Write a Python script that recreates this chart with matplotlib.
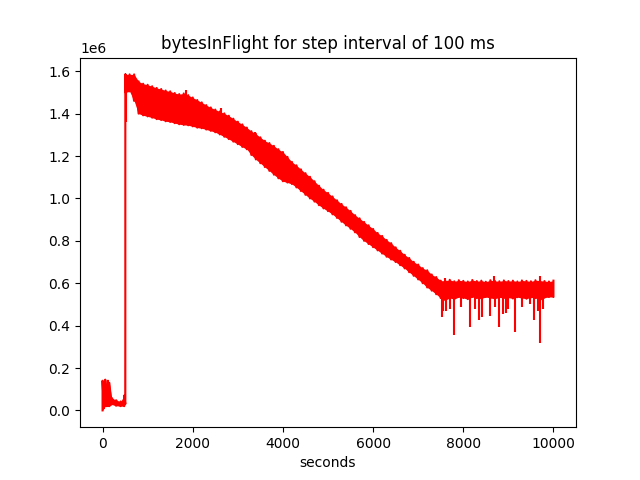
import numpy as np
import matplotlib
matplotlib.use("Agg")
import matplotlib.pyplot as plt

# time (s) and envelope of bytesInFlight (units of 1e6 bytes)
time_s = [0, 30, 60, 90, 120, 150, 200, 300, 400, 480, 505, 510, 600, 700,
          800, 900, 1000, 1100, 1200, 1300, 1400, 1500, 1600, 1700, 1800, 1900,
          2000, 2100, 2200, 2300, 2400, 2500, 2600, 2700, 2800, 2900,
          3000, 3100, 3200, 3300, 3400, 3500, 3600, 3700, 3800, 3900,
          4000, 4100, 4200, 4300, 4400, 4500, 4600, 4700, 4800, 4900,
          5000, 5100, 5200, 5300, 5400, 5500, 5600, 5700, 5800, 5900,
          6000, 6100, 6200, 6300, 6400, 6500, 6600, 6700, 6800, 6900,
          7000, 7100, 7200, 7300, 7400, 7500, 7600, 7700, 7800, 7900,
          8000, 8100, 8200, 8300, 8400, 8500, 8600, 8700, 8800, 8900,
          9000, 9100, 9200, 9300, 9400, 9500, 9600, 9700, 9800, 9900, 10000]

bytes_high = [0.14, 0.13, 0.145, 0.12, 0.14, 0.13, 0.06, 0.048, 0.042, 0.07, 1.585, 1.585, 1.585, 1.585,
              1.552, 1.541, 1.536, 1.529, 1.521, 1.516, 1.509, 1.505, 1.497, 1.492, 1.495, 1.487,
              1.476, 1.464, 1.453, 1.44, 1.429, 1.419, 1.41, 1.401, 1.39, 1.376,
              1.362, 1.349, 1.334, 1.317, 1.305, 1.288, 1.272, 1.261, 1.248, 1.232,
              1.219, 1.196, 1.172, 1.156, 1.137, 1.119, 1.102, 1.081, 1.06, 1.041,
              1.026, 1.009, 0.991, 0.974, 0.958, 0.941, 0.921, 0.906, 0.889, 0.873,
              0.856, 0.837, 0.823, 0.804, 0.789, 0.769, 0.753, 0.734, 0.719, 0.701,
              0.688, 0.671, 0.661, 0.641, 0.629, 0.612, 0.612, 0.616, 0.609, 0.614,
              0.611, 0.608, 0.615, 0.61, 0.612, 0.607, 0.614, 0.611, 0.609, 0.613,
              0.61, 0.612, 0.608, 0.613, 0.611, 0.609, 0.614, 0.612, 0.61, 0.608, 0.612]

bytes_low = [0.0, 0.01, 0.02, 0.02, 0.02, 0.02, 0.028, 0.022, 0.02, 0.02, 0.03, 1.50, 1.505, 1.46,
             1.40, 1.392, 1.387, 1.381, 1.374, 1.37, 1.364, 1.361, 1.355, 1.35, 1.347, 1.345,
             1.34, 1.334, 1.331, 1.325, 1.319, 1.312, 1.302, 1.291, 1.28, 1.268,
             1.256, 1.243, 1.232, 1.205, 1.184, 1.166, 1.148, 1.13, 1.112, 1.095,
             1.081, 1.075, 1.068, 1.052, 1.035, 1.017, 1.0, 0.985, 0.968, 0.953,
             0.94, 0.925, 0.908, 0.89, 0.873, 0.857, 0.84, 0.818, 0.8, 0.785,
             0.77, 0.755, 0.74, 0.725, 0.712, 0.70, 0.685, 0.67, 0.652, 0.635,
             0.618, 0.60, 0.58, 0.565, 0.548, 0.53, 0.52, 0.53, 0.525, 0.535,
             0.53, 0.525, 0.535, 0.53, 0.528, 0.535, 0.53, 0.527, 0.533, 0.53,
             0.532, 0.528, 0.534, 0.53, 0.527, 0.533, 0.53, 0.52, 0.532, 0.535, 0.535]

# isolated excursions outside the band
spike_time = [510, 1840, 2630, 3380, 7520, 7560, 7590, 7620, 7700, 7805, 7950, 8153, 8250, 8345, 8420, 8597,
              8692, 8700, 8788, 8870, 8950, 9000, 9142, 9300, 9480, 9579, 9650, 9700, 9712, 9760]
spike_low = [1.36, 1.45, 1.38, 1.27, 0.44, 0.47, 0.58, 0.47, 0.48, 0.357, 0.49, 0.395, 0.48, 0.427, 0.44, 0.445,
             0.55, 0.49, 0.395, 0.455, 0.46, 0.48, 0.372, 0.49, 0.50, 0.427, 0.47, 0.55, 0.318, 0.48]
spike_high = [1.50, 1.51, 1.425, 1.315, 0.58, 0.58, 0.625, 0.58, 0.58, 0.58, 0.58, 0.58, 0.58, 0.58, 0.58, 0.58,
              0.633, 0.58, 0.58, 0.58, 0.58, 0.58, 0.58, 0.58, 0.58, 0.58, 0.58, 0.633, 0.58, 0.58]

scale = 1e6
t = np.array(time_s, dtype=float)
lo = np.array(bytes_low) * scale
hi = np.array(bytes_high) * scale

fig, ax = plt.subplots(figsize=(6.4, 4.8), dpi=100)
ax.fill_between(t, lo, hi, color='red', linewidth=0)
zx = np.repeat(t, 2)
zy = np.column_stack([lo, hi]).ravel()
ax.plot(zx, zy, color='red', linewidth=1.5)
ax.vlines(spike_time, np.array(spike_low) * scale, np.array(spike_high) * scale,
          color='red', linewidth=1.5)

ax.set_title('bytesInFlight for step interval of 100 ms')
ax.set_xlabel('seconds')
fig.savefig('out.png', dpi=100)
